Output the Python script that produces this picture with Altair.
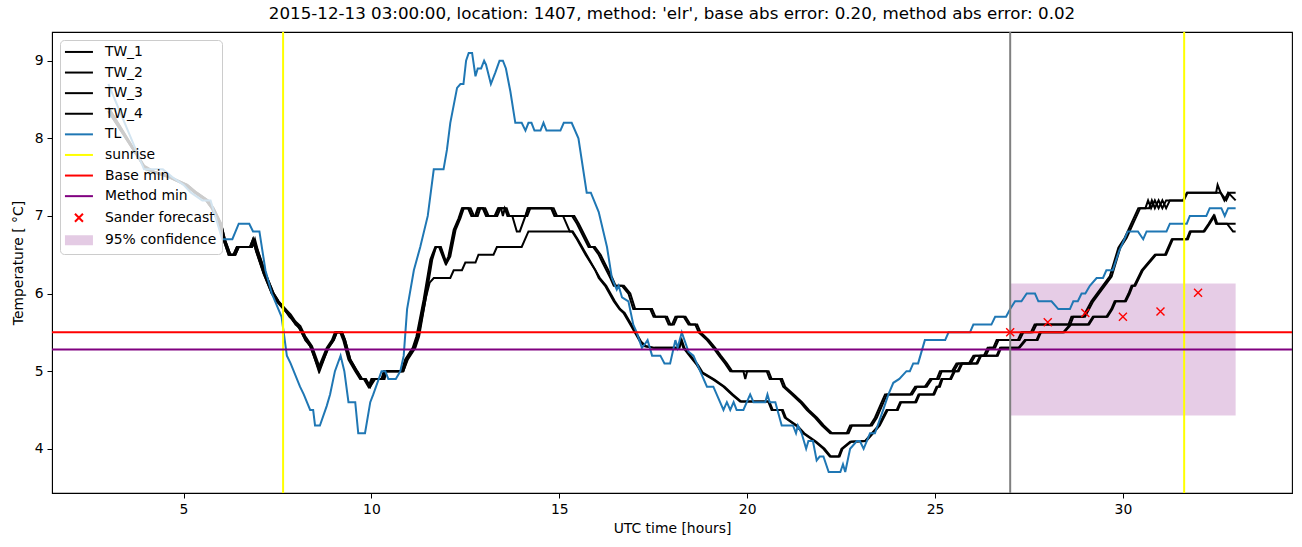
import altair as alt
import pandas as pd

TITLE = "2015-12-13 03:00:00, location: 1407, method: 'elr', base abs error: 0.20, method abs error: 0.02"

# (hour, temperature) pairs
TL = [(3.0,8.7),(3.95,7.6),(4.45,7.6),(4.7,7.5),(5.0,7.4),(5.2,7.3),(5.5,7.2),(5.72,7.2),(6.03,6.7),(6.3,6.7),(6.47,6.9),(6.75,6.9),(6.85,6.8),(7.02,6.8),(7.18,6.3),(7.35,6.0),(7.61,5.7),(7.75,5.2),(7.85,5.1),(8.1,4.8),(8.2,4.7),(8.37,4.5),(8.45,4.5),(8.5,4.3),(8.63,4.3),(8.81,4.55),(8.9,4.7),(9.03,5.0),(9.18,5.2),(9.28,5.0),(9.39,4.6),(9.57,4.6),(9.65,4.2),(9.83,4.2),(9.97,4.6),(10.05,4.7),(10.27,5.0),(10.37,5.0),(10.45,4.9),(10.65,4.9),(10.77,5.0),(10.86,5.2),(10.95,5.8),(11.13,6.3),(11.3,6.6),(11.5,7.0),(11.66,7.6),(11.92,7.6),(12.01,7.85),(12.1,8.2),(12.28,8.65),(12.37,8.7),(12.45,8.7),(12.52,9.0),(12.59,9.1),(12.68,9.1),(12.77,8.8),(12.83,8.9),(12.92,8.9),(13.0,9.0),(13.05,8.95),(13.18,8.7),(13.3,8.85),(13.41,9.0),(13.5,9.0),(13.58,8.9),(13.7,8.6),(13.83,8.2),(14.0,8.2),(14.1,8.1),(14.18,8.2),(14.26,8.2),(14.34,8.1),(14.5,8.1),(14.58,8.2),(14.66,8.1),(15.03,8.1),(15.12,8.2),(15.33,8.2),(15.51,8.0),(15.73,7.3),(15.84,7.3),(16.05,7.05),(16.27,6.6),(16.4,6.2),(16.53,6.05),(16.58,6.1),(16.67,5.95),(16.84,5.9),(16.97,5.6),(17.06,5.5),(17.2,5.3),(17.28,5.35),(17.35,5.4),(17.47,5.2),(17.69,5.2),(17.8,5.1),(17.95,5.1),(18.09,5.4),(18.15,5.3),(18.26,5.5),(18.44,5.25),(18.57,5.2),(18.66,5.1),(18.93,4.8),(19.1,4.8),(19.37,4.5),(19.46,4.6),(19.55,4.5),(19.64,4.6),(19.72,4.5),(19.9,4.5),(20.08,4.7),(20.17,4.6),(20.48,4.6),(20.54,4.7),(20.6,4.6),(20.75,4.6),(20.92,4.3),(21.22,4.3),(21.3,4.2),(21.35,4.3),(21.45,4.2),(21.57,4.0),(21.63,4.1),(21.75,4.1),(21.85,3.85),(21.93,3.9),(22.03,3.9),(22.17,3.7),(22.48,3.7),(22.55,3.8),(22.61,3.7),(22.74,4.0),(22.92,4.1),(23.0,4.1),(23.1,4.0),(23.27,4.2),(23.4,4.2),(23.62,4.5),(23.76,4.7),(23.89,4.85),(24.05,4.9),(24.24,5.0),(24.33,5.0),(24.42,5.1),(24.55,5.1),(24.73,5.4),(25.27,5.4),(25.36,5.5),(25.93,5.5),(26.02,5.6),(26.5,5.6),(26.6,5.7),(26.89,5.7),(27.0,5.8),(27.13,5.9),(27.3,5.9),(27.44,6.0),(27.66,6.0),(27.75,5.9),(28.1,5.9),(28.28,5.8),(28.59,5.8),(28.68,5.9),(28.8,5.9),(28.9,6.0),(29.0,6.0),(29.12,6.1),(29.3,6.2),(29.47,6.2),(29.56,6.3),(29.73,6.3),(29.9,6.55),(30.04,6.7),(30.13,6.8),(30.4,6.8),(30.54,6.7),(30.63,6.8),(31.16,6.8),(31.25,6.9),(31.7,6.9),(31.78,7.0),(32.22,7.0),(32.31,7.1),(32.62,7.1),(32.71,7.0),(32.8,7.1),(33.0,7.1)]

TW_1 = [(3.0,8.4),(3.95,7.65),(4.3,7.55),(4.6,7.5),(5.05,7.4),(5.3,7.3),(5.6,7.2),(5.75,7.1),(5.95,6.9),(6.06,6.7),(6.2,6.5),(6.33,6.5),(6.42,6.6),(6.77,6.6),(6.85,6.7),(6.93,6.55),(7.13,6.26),(7.35,6.0),(7.48,5.9),(7.66,5.8),(7.8,5.73),(7.93,5.64),(8.06,5.58),(8.19,5.45),(8.37,5.32),(8.59,5.04),(8.81,5.3),(8.95,5.4),(9.03,5.5),(9.17,5.5),(9.25,5.4),(9.39,5.15),(9.57,5.0),(9.7,4.9),(9.8,4.9),(9.92,4.8),(10.0,4.9),(10.27,4.9),(10.33,5.0),(10.8,5.0),(10.9,5.15),(11.1,5.3),(11.2,5.45),(11.39,5.92),(11.57,6.44),(11.7,6.6),(11.8,6.6),(11.97,6.39),(12.05,6.48),(12.19,6.82),(12.32,6.97),(12.41,7.1),(12.59,7.1),(12.68,7.0),(12.78,7.0),(12.85,7.1),(12.98,7.1),(13.07,7.0),(13.3,7.0),(13.39,7.1),(13.55,7.1),(13.62,7.0),(14.1,7.0),(14.18,7.1),(14.8,7.1),(14.89,7.0),(15.34,7.0),(15.47,6.9),(15.78,6.6),(15.9,6.6),(16.05,6.5),(16.15,6.4),(16.36,6.2),(16.45,6.1),(16.67,6.1),(16.84,6.0),(16.97,5.8),(17.42,5.8),(17.51,5.7),(17.82,5.7),(17.91,5.6),(18.0,5.6),(18.09,5.7),(18.31,5.7),(18.44,5.6),(18.62,5.6),(18.71,5.5),(18.93,5.4),(19.1,5.3),(19.25,5.2),(19.41,5.1),(19.55,5.0),(19.9,5.0),(19.95,4.9),(20.0,5.0),(20.52,5.0),(20.6,4.9),(20.88,4.9),(20.96,4.8),(21.19,4.7),(21.41,4.6),(21.59,4.5),(21.81,4.4),(21.99,4.3),(22.21,4.2),(22.65,4.2),(22.74,4.3),(23.27,4.3),(23.4,4.4),(23.58,4.6),(23.67,4.7),(24.34,4.7),(24.47,4.8),(24.73,4.8),(24.87,4.9),(25.05,4.9),(25.13,5.0),(25.45,5.0),(25.57,5.1),(25.9,5.1),(26.02,5.2),(26.3,5.2),(26.4,5.3),(26.55,5.3),(26.64,5.4),(27.2,5.4),(27.3,5.5),(27.55,5.5),(27.65,5.6),(28.55,5.6),(28.63,5.7),(28.94,5.7),(29.16,5.9),(29.39,6.05),(29.65,6.22),(29.88,6.59),(30.05,6.72),(30.23,6.91),(30.41,7.1),(30.6,7.1),(30.67,7.2),(30.75,7.1),(30.85,7.2),(30.95,7.1),(31.05,7.2),(31.15,7.1),(31.25,7.2),(31.6,7.2),(31.7,7.3),(32.48,7.3),(32.52,7.4),(32.6,7.3),(32.75,7.2),(32.85,7.3),(33.0,7.3)]

TW_2 = [(3.0,8.35),(4.0,7.6),(4.35,7.55),(4.65,7.5),(5.1,7.4),(5.35,7.3),(5.65,7.2),(5.8,7.1),(6.0,6.9),(6.1,6.7),(6.25,6.5),(6.38,6.5),(6.47,6.6),(6.82,6.6),(6.9,6.7),(6.98,6.55),(7.18,6.26),(7.4,6.0),(7.53,5.9),(7.71,5.8),(7.85,5.73),(7.98,5.64),(8.11,5.58),(8.24,5.45),(8.42,5.32),(8.63,5.04),(8.86,5.3),(9.0,5.4),(9.08,5.5),(9.22,5.5),(9.3,5.4),(9.44,5.15),(9.62,5.0),(9.75,4.9),(9.85,4.9),(9.97,4.8),(10.05,4.9),(10.32,4.9),(10.38,5.0),(10.85,5.0),(10.95,5.15),(11.15,5.3),(11.25,5.45),(11.44,5.92),(11.62,6.44),(11.72,6.6),(11.85,6.6),(12.0,6.39),(12.1,6.48),(12.24,6.82),(12.37,6.97),(12.46,7.1),(12.64,7.1),(12.73,7.0),(12.83,7.0),(12.9,7.1),(13.03,7.1),(13.12,7.0),(13.35,7.0),(13.44,7.1),(13.6,7.1),(13.67,7.0),(14.15,7.0),(14.23,7.1),(14.85,7.1),(14.94,7.0),(15.4,7.0),(15.52,6.9),(15.83,6.6),(15.95,6.6),(16.1,6.5),(16.2,6.4),(16.41,6.2),(16.5,6.1),(16.72,6.1),(16.89,6.0),(17.02,5.8),(17.47,5.8),(17.56,5.7),(17.87,5.7),(17.96,5.6),(18.05,5.6),(18.14,5.7),(18.36,5.7),(18.49,5.6),(18.67,5.6),(18.76,5.5),(18.98,5.4),(19.15,5.3),(19.3,5.2),(19.46,5.1),(19.6,5.0),(20.57,5.0),(20.65,4.9),(20.93,4.9),(21.01,4.8),(21.24,4.7),(21.46,4.6),(21.64,4.5),(21.86,4.4),(22.04,4.3),(22.26,4.2),(22.7,4.2),(22.79,4.3),(23.32,4.3),(23.45,4.4),(23.63,4.6),(23.72,4.7),(24.39,4.7),(24.52,4.8),(24.78,4.8),(24.92,4.9),(25.1,4.9),(25.18,5.0),(25.5,5.0),(25.62,5.1),(25.95,5.1),(26.07,5.2),(26.35,5.2),(26.45,5.3),(26.6,5.3),(26.69,5.4),(27.25,5.4),(27.35,5.5),(27.6,5.5),(27.7,5.6),(28.6,5.6),(28.68,5.7),(28.99,5.7),(29.21,5.9),(29.44,6.05),(29.7,6.22),(29.93,6.59),(30.1,6.72),(30.28,6.91),(30.46,7.1),(30.7,7.1),(30.77,7.2),(30.85,7.1),(30.95,7.2),(31.05,7.1),(31.15,7.2),(31.62,7.2),(31.72,7.3),(32.5,7.3),(32.6,7.3),(32.7,7.2),(32.8,7.3),(33.0,7.2)]

TW_3 = [(3.0,8.4),(3.97,7.62),(4.3,7.55),(4.6,7.5),(5.05,7.4),(5.3,7.3),(5.6,7.2),(5.75,7.1),(5.95,6.9),(6.06,6.7),(6.2,6.5),(6.33,6.5),(6.42,6.6),(6.77,6.6),(6.85,6.7),(6.93,6.55),(7.13,6.26),(7.35,6.0),(7.5,5.9),(7.68,5.8),(7.82,5.7),(7.95,5.64),(8.08,5.55),(8.21,5.45),(8.4,5.3),(8.6,5.0),(8.83,5.3),(8.98,5.4),(9.06,5.5),(9.2,5.5),(9.28,5.4),(9.42,5.15),(9.6,5.0),(9.72,4.9),(9.82,4.9),(9.95,4.8),(10.03,4.9),(10.28,4.9),(10.35,5.0),(10.82,5.0),(10.92,5.15),(11.12,5.3),(11.22,5.45),(11.41,5.92),(11.59,6.44),(11.72,6.6),(11.82,6.6),(11.99,6.39),(12.07,6.48),(12.21,6.82),(12.34,6.97),(12.43,7.1),(12.57,7.1),(12.66,7.0),(12.76,7.0),(12.83,7.1),(12.96,7.1),(13.05,7.0),(13.28,7.0),(13.37,7.1),(13.45,7.1),(13.5,7.0),(13.55,7.1),(13.65,7.0),(13.75,7.0),(13.87,6.8),(13.95,6.8),(14.1,7.0),(14.16,7.1),(14.78,7.1),(14.87,7.0),(15.1,7.0),(15.28,6.8),(15.36,6.8),(15.49,6.7),(15.96,6.3),(16.05,6.2),(16.22,6.1),(16.45,5.9),(16.6,5.8),(16.71,5.75),(16.89,5.6),(17.15,5.38),(17.28,5.32),(17.51,5.3),(18.17,5.3),(18.23,5.4),(18.3,5.3),(18.48,5.19),(18.66,5.08),(18.79,4.98),(19.1,4.89),(19.37,4.8),(19.59,4.7),(19.81,4.61),(20.56,4.61),(20.65,4.5),(20.92,4.5),(21.0,4.4),(21.32,4.29),(21.49,4.2),(21.81,4.09),(22.03,4.0),(22.2,3.9),(22.43,3.9),(22.51,4.0),(22.74,4.09),(23.14,4.1),(23.32,4.2),(23.5,4.3),(23.71,4.5),(23.98,4.5),(24.07,4.6),(24.47,4.6),(24.56,4.7),(24.95,4.7),(25.04,4.8),(25.1,4.8),(25.17,4.9),(25.4,4.9),(25.5,5.0),(25.6,5.0),(25.7,5.1),(26.1,5.1),(26.2,5.2),(26.64,5.2),(26.73,5.3),(27.22,5.3),(27.39,5.4),(27.7,5.4),(27.79,5.5),(28.41,5.5),(28.59,5.6),(29.07,5.6),(29.2,5.7),(29.56,5.7),(29.69,5.8),(29.78,5.9),(30.05,5.9),(30.15,6.0),(30.23,6.1),(30.3,6.1),(30.5,6.3),(30.85,6.5),(31.12,6.5),(31.3,6.7),(31.7,6.7),(31.78,6.8),(32.14,6.8),(32.28,6.9),(32.41,7.0),(32.48,6.9),(32.77,6.9),(32.93,6.8),(33.0,6.8)]

TW_4 = [(3.0,8.35),(4.0,7.6),(4.35,7.55),(4.65,7.5),(5.1,7.4),(5.35,7.3),(5.65,7.2),(5.8,7.1),(6.0,6.9),(6.1,6.7),(6.25,6.5),(6.38,6.5),(6.47,6.6),(6.82,6.6),(6.9,6.65),(6.98,6.55),(7.18,6.26),(7.4,6.0),(7.53,5.9),(7.71,5.8),(7.85,5.7),(7.98,5.6),(8.11,5.55),(8.24,5.4),(8.42,5.3),(8.62,5.0),(8.85,5.3),(9.0,5.4),(9.08,5.5),(9.22,5.5),(9.3,5.4),(9.44,5.15),(9.62,5.0),(9.75,4.9),(9.85,4.9),(9.97,4.8),(10.1,4.9),(10.35,4.9),(10.4,5.0),(10.85,5.0),(10.97,5.15),(11.17,5.3),(11.27,5.45),(11.45,5.95),(11.55,6.14),(11.66,6.2),(12.1,6.2),(12.19,6.3),(12.41,6.3),(12.5,6.4),(12.77,6.4),(12.85,6.5),(13.25,6.5),(13.34,6.6),(14.0,6.6),(14.18,6.8),(15.34,6.8),(15.47,6.7),(15.7,6.5),(15.96,6.3),(16.08,6.2),(16.25,6.1),(16.48,5.9),(16.62,5.8),(16.74,5.75),(16.92,5.6),(17.18,5.38),(17.31,5.32),(17.54,5.3),(18.2,5.3),(18.26,5.4),(18.33,5.3),(18.51,5.19),(18.69,5.08),(18.82,4.98),(19.13,4.89),(19.4,4.8),(19.62,4.7),(19.84,4.61),(20.59,4.61),(20.68,4.5),(20.95,4.5),(21.03,4.4),(21.35,4.29),(21.52,4.2),(21.84,4.09),(22.06,4.0),(22.23,3.9),(22.46,3.9),(22.54,4.0),(22.77,4.09),(23.17,4.1),(23.35,4.2),(23.53,4.3),(23.74,4.5),(24.01,4.5),(24.1,4.6),(24.5,4.6),(24.59,4.7),(24.98,4.7),(25.07,4.8),(25.13,4.8),(25.2,4.9),(25.43,4.9),(25.53,5.0),(25.63,5.0),(25.73,5.1),(26.13,5.1),(26.23,5.2),(26.67,5.2),(26.76,5.3),(27.25,5.3),(27.42,5.4),(27.73,5.4),(27.82,5.5),(28.44,5.5),(28.62,5.6),(29.1,5.6),(29.23,5.7),(29.59,5.7),(29.72,5.8),(29.81,5.9),(30.08,5.9),(30.18,6.0),(30.26,6.1),(30.33,6.1),(30.53,6.3),(30.88,6.5),(31.15,6.5),(31.33,6.7),(31.73,6.7),(31.81,6.8),(32.17,6.8),(32.31,6.9),(32.44,7.0),(32.51,6.9),(32.8,6.9),(33.0,6.9)]

SUNRISE_HOURS = [7.65, 31.63]
FORECAST_START_HOURS = [27.0]
BASE_MIN = [5.5]
METHOD_MIN = [5.28]
SANDER_HOURS = [27, 28, 29, 30, 31, 32]
SANDER_TEMPS = [5.50, 5.63, 5.75, 5.70, 5.77, 6.01]
CONF_START = [27.0]
CONF_END = [33.0]
CONF_LOW = [4.43]
CONF_HIGH = [6.13]

X_TICKS = [5, 10, 15, 20, 25, 30]
Y_TICKS = [4, 5, 6, 7, 8, 9]

LEGEND_LABELS = ["TW_1", "TW_2", "TW_3", "TW_4", "TL", "sunrise", "Base min",
                 "Method min", "Sander forecast", "95% confidence"]

FONT = "DejaVu Sans"
LINE_PATH = "M-3.5,0H3.5"
X_PATH = "M-1,-1L1,1M-1,1L1,-1"
PATCH_PATH = "M-3.5,-1H3.5M-3.5,-0.5H3.5M-3.5,0H3.5M-3.5,0.5H3.5M-3.5,1H3.5"
LEGEND_COLORS = ["black", "black", "black", "black", "#1f77b4", "yellow", "red",
                 "purple", "red", "#e4cbe4"]
LEGEND_SHAPES = [LINE_PATH] * 8 + [X_PATH, PATCH_PATH]

xs = alt.Scale(domain=[1.5, 34.5], nice=False, zero=False)
ys = alt.Scale(domain=[3.43, 9.37], nice=False, zero=False)
x_axis = alt.Axis(values=X_TICKS, title="UTC time [hours]", grid=False, format="d")
y_axis = alt.Axis(values=Y_TICKS, title="Temperature [ °C]", grid=False, format="d")

def X(field="hour"):
    return alt.X(f"{field}:Q", scale=xs, axis=x_axis)

def Y(field="temp"):
    return alt.Y(f"{field}:Q", scale=ys, axis=y_axis)

tw_rows = []
for name, series in [("TW_1", TW_1), ("TW_2", TW_2), ("TW_3", TW_3), ("TW_4", TW_4)]:
    for h, t in series:
        tw_rows.append({"series": name, "hour": h, "temp": t})
tw_df = pd.DataFrame(tw_rows)
tl_df = pd.DataFrame(TL, columns=["hour", "temp"])

band = alt.Chart(pd.DataFrame({"hour": CONF_START, "hour2": CONF_END,
                               "temp": CONF_LOW, "temp2": CONF_HIGH})).mark_rect(
    color="purple", opacity=0.2).encode(x=X(), x2="hour2:Q", y=Y(), y2="temp2:Q")

tw_lines = alt.Chart(tw_df).mark_line(color="black", strokeWidth=2, clip=True).encode(
    x=X(), y=Y(), detail="series:N")
tl_line = alt.Chart(tl_df).mark_line(color="#1f77b4", strokeWidth=2, clip=True).encode(
    x=X(), y=Y())

sunrise = alt.Chart(pd.DataFrame({"hour": SUNRISE_HOURS})).mark_rule(
    color="yellow", strokeWidth=2).encode(x=X())
base_min = alt.Chart(pd.DataFrame({"temp": BASE_MIN})).mark_rule(
    color="red", strokeWidth=2).encode(y=Y())
method_min = alt.Chart(pd.DataFrame({"temp": METHOD_MIN})).mark_rule(
    color="purple", strokeWidth=2).encode(y=Y())
start_line = alt.Chart(pd.DataFrame({"hour": FORECAST_START_HOURS})).mark_rule(
    color="gray", strokeWidth=2).encode(x=X())

sander = alt.Chart(pd.DataFrame({"hour": SANDER_HOURS, "temp": SANDER_TEMPS})).mark_point(
    shape=X_PATH, size=64, color="red", filled=False, strokeWidth=1.4, opacity=1).encode(
    x=X(), y=Y())

legend = alt.Legend(
    title=None, orient="none", legendX=8, legendY=8, direction="vertical", columns=1,
    fillColor="rgba(255,255,255,0.8)", strokeColor="#cccccc", cornerRadius=4, padding=5,
    labelFont=FONT, labelFontSize=13.9, labelColor="black", labelLimit=300,
    symbolSize=64, symbolStrokeWidth=2, symbolOffset=7, labelOffset=19, rowPadding=5.6,
)
legend_df = pd.DataFrame({"label": LEGEND_LABELS, "hour": [0.0] * 10, "temp": [5.0] * 10})
legend_layer = alt.Chart(legend_df).mark_point(
    filled=False, size=64, strokeWidth=2, opacity=1, clip=True).encode(
    x=X(), y=Y(),
    color=alt.Color("label:N", scale=alt.Scale(domain=LEGEND_LABELS, range=LEGEND_COLORS),
                    legend=legend),
    shape=alt.Shape("label:N", scale=alt.Scale(domain=LEGEND_LABELS, range=LEGEND_SHAPES),
                    legend=legend),
)

chart = alt.layer(
    band, tw_lines, tl_line, sunrise, base_min, method_min, start_line, sander, legend_layer
).properties(
    width=1240, height=461,
    title=alt.TitleParams(TITLE, font=FONT, fontSize=16.7, fontWeight="normal",
                          color="black", anchor="middle", offset=8),
    autosize=alt.AutoSizeParams(type="none"),
    padding={"left": 52, "top": 32, "right": 10, "bottom": 54},
    background="white",
).configure_view(stroke="black", strokeWidth=1.1).configure_axis(
    labelFont=FONT, titleFont=FONT, labelFontSize=13.9, titleFontSize=13.9,
    labelColor="black", titleColor="black", titleFontWeight="normal",
    domainColor="black", tickColor="black", tickSize=5, labelPadding=4,
).configure_axisX(titlePadding=6).configure_axisY(titlePadding=9)

chart.save("out.html", embed_options={"renderer": "svg", "actions": False})
